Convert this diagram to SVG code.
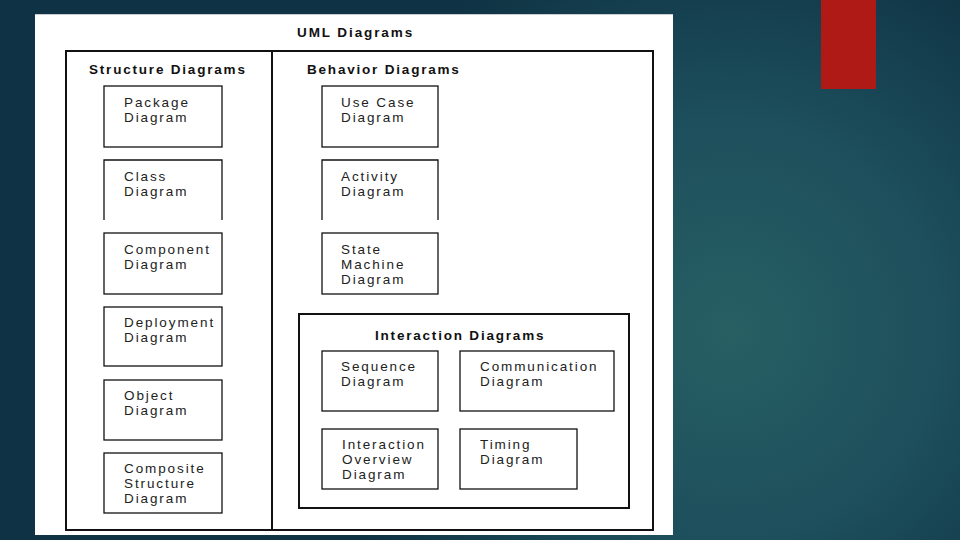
<svg xmlns="http://www.w3.org/2000/svg" width="960" height="540" viewBox="0 0 960 540">
<defs>
<radialGradient id="bg" cx="730" cy="330" r="420" gradientUnits="userSpaceOnUse">
<stop offset="0" stop-color="#275f63"/>
<stop offset="0.5" stop-color="#1d4f5c"/>
<stop offset="1" stop-color="#0f3344"/>
</radialGradient>
<style>
.box{fill:#fff;stroke:#111;stroke-width:1.3}
.open{fill:none;stroke:#111;stroke-width:1.3}
.frame{fill:none;stroke:#111;stroke-width:2}
.h{font-family:"Liberation Sans",Arial,sans-serif;font-size:13.5px;font-weight:bold;fill:#111;letter-spacing:1.8px}
.t{font-family:"Liberation Sans",Arial,sans-serif;font-size:13.5px;fill:#222;letter-spacing:1.9px}
</style>
</defs>
<rect width="960" height="540" fill="url(#bg)"/>
<rect x="821" y="0" width="55" height="89" fill="#b01a16"/>
<rect x="35" y="14" width="638" height="521" fill="#fff"/>
<line x1="35" y1="14.5" x2="673" y2="14.5" stroke="#ccc" stroke-width="1"/>
<text class="h" x="297" y="37" style="letter-spacing:1.9px">UML Diagrams</text>
<g id="frames">
<rect class="frame" x="66" y="51" width="587" height="479"/>
<line class="frame" x1="272" y1="51" x2="272" y2="530"/>
</g>
<g id="structure">
<text class="h" x="89" y="74">Structure Diagrams</text>
<g id="package"><rect class="box" x="104" y="86" width="118" height="61"/><text class="t" x="124" y="107">Package</text><text class="t" x="124" y="122">Diagram</text></g>
<g id="class"><path class="open" d="M104 220V160H222V220"/><text class="t" x="124" y="181">Class</text><text class="t" x="124" y="196">Diagram</text></g>
<g id="component"><rect class="box" x="104" y="233" width="118" height="61"/><text class="t" x="124" y="254">Component</text><text class="t" x="124" y="269">Diagram</text></g>
<g id="deployment"><rect class="box" x="104" y="307" width="118" height="59"/><text class="t" x="124" y="327">Deployment</text><text class="t" x="124" y="342">Diagram</text></g>
<g id="object"><rect class="box" x="104" y="380" width="118" height="60"/><text class="t" x="124" y="400">Object</text><text class="t" x="124" y="415">Diagram</text></g>
<g id="composite"><rect class="box" x="104" y="453" width="118" height="60"/><text class="t" x="124" y="473">Composite</text><text class="t" x="124" y="488">Structure</text><text class="t" x="124" y="503">Diagram</text></g>
</g>
<g id="behavior">
<text class="h" x="307" y="74">Behavior Diagrams</text>
<g id="usecase"><rect class="box" x="322" y="86" width="116" height="61"/><text class="t" x="341" y="107">Use Case</text><text class="t" x="341" y="122">Diagram</text></g>
<g id="activity"><path class="open" d="M322 220V160H438V220"/><text class="t" x="341" y="181">Activity</text><text class="t" x="341" y="196">Diagram</text></g>
<g id="statemachine"><rect class="box" x="322" y="233" width="116" height="61"/><text class="t" x="341" y="254">State</text><text class="t" x="341" y="269">Machine</text><text class="t" x="341" y="284">Diagram</text></g>
</g>
<g id="interaction">
<rect class="frame" x="299" y="314" width="330" height="194"/>
<text class="h" x="375" y="340">Interaction Diagrams</text>
<g id="sequence"><rect class="box" x="322" y="351" width="116" height="60"/><text class="t" x="341" y="371">Sequence</text><text class="t" x="341" y="386">Diagram</text></g>
<g id="communication"><rect class="box" x="460" y="351" width="154" height="60"/><text class="t" x="480" y="371">Communication</text><text class="t" x="480" y="386">Diagram</text></g>
<g id="overview"><rect class="box" x="322" y="429" width="116" height="60"/><text class="t" x="342" y="449">Interaction</text><text class="t" x="342" y="464">Overview</text><text class="t" x="342" y="479">Diagram</text></g>
<g id="timing"><rect class="box" x="460" y="429" width="117" height="60"/><text class="t" x="480" y="449">Timing</text><text class="t" x="480" y="464">Diagram</text></g>
</g>
<g id="connectors"/>
</svg>
